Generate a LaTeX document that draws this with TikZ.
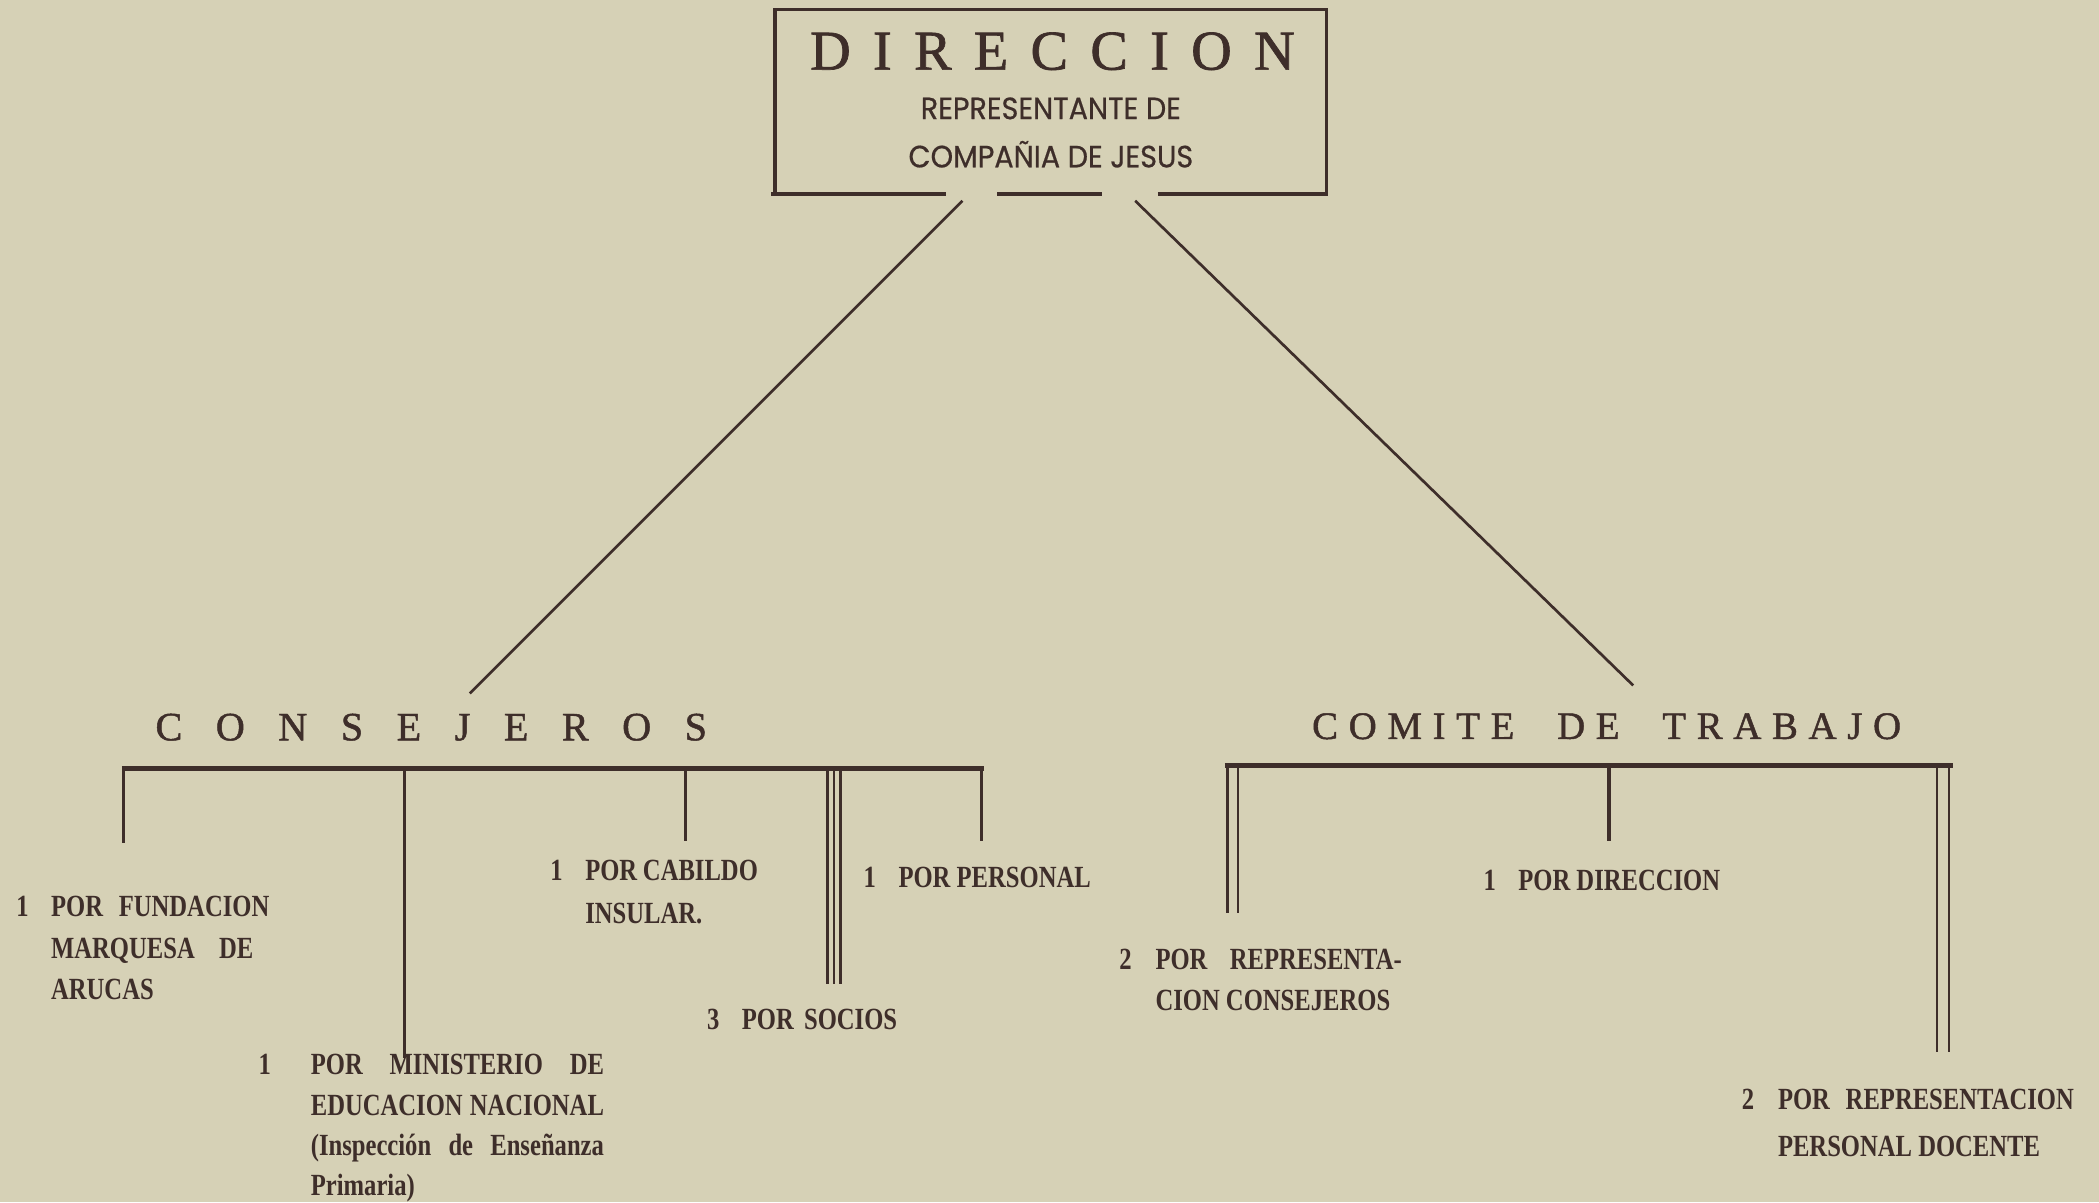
\documentclass[tikz,border=0pt]{standalone}
\usepackage{fontspec}
\setmainfont{Liberation Serif}
\newfontfamily\titlefont[FakeBold=1.2]{Liberation Serif}
\newfontfamily\labfont[FakeStretch=0.8]{Liberation Serif}
\newfontfamily\sansfnt[FakeStretch=0.93,FakeBold=0.6]{Poppins}
\definecolor{paper}{RGB}{214,209,182}
\definecolor{ink}{RGB}{62,46,42}
\newcommand\labtext[1]{\begin{tabular}[t]{@{}l@{}}#1\end{tabular}}
\newcommand\jline[2]{\makebox[#1][s]{#2}}
\tikzset{
  boxline/.style={draw=ink, line width=2.6pt},
  diag/.style={draw=ink, line width=2pt},
  bar/.style={draw=ink, line width=3.4pt},
  stem/.style={draw=ink, line width=2.4pt},
  thin/.style={draw=ink, line width=1.8pt},
  lab/.style={anchor=base west, inner sep=0pt, text=ink,
    font=\labfont\bfseries\fontsize{23}{30}\selectfont},
  ttl/.style={anchor=base west, inner sep=0pt, text=ink},
  sns/.style={anchor=base, inner sep=0pt, text=ink,
    font=\sansfnt\fontsize{23}{23}\selectfont}
}
\begin{document}
\begin{tikzpicture}[x=1pt,y=-1pt]
\fill[paper] (0,0) rectangle (1568,898);
\useasboundingbox (0,0) rectangle (1568,898);

% ---- top box
\draw[boxline] (579,145) -- (579,7) -- (991,7) -- (991,145);
\draw[boxline] (576,145) -- (707,145);
\draw[boxline] (745,145) -- (823,145);
\draw[boxline] (865,145) -- (992,145);
\node[ttl, font=\titlefont\fontsize{42}{42}\selectfont] (dir) at (605,52)
  {\makebox[362pt][s]{D\hfill I\hfill R\hfill E\hfill C\hfill C\hfill I\hfill O\hfill N}};
\node[sns] (rep) at (785,89) {REPRESENTANTE DE};
\node[sns] (comp) at (785,125) {COMPAÑIA DE JESUS};

% ---- group titles
\node[ttl, font=\titlefont\fontsize{30}{30}\selectfont] (cons) at (116,553)
  {\makebox[412pt][s]{C\hfill O\hfill N\hfill S\hfill E\hfill J\hfill E\hfill R\hfill O\hfill S}};
\node[ttl, font=\titlefont\fontsize{29}{29}\selectfont] (comite) at (980,552)
  {\makebox[440pt][s]{C\hfill O\hfill M\hfill I\hfill T\hfill E\hskip 0pt plus 4fill D\hfill E\hskip 0pt plus 4fill T\hfill R\hfill A\hfill B\hfill A\hfill J\hfill O}};

% ---- diagonals
\coordinate (dl) at (719,150);
\coordinate (dr) at (848,150);
\coordinate (cl) at (351,518);
\coordinate (cr) at (1220,512);
\draw[diag] (dl) -- (cl);
\draw[diag] (dr) -- (cr);

% ---- consejeros bracket
\coordinate (bl0) at (91,574);
\coordinate (bl1) at (735,574);
\draw[bar] (bl0) -- (bl1);
\coordinate (s1) at (92,630);
\coordinate (s2) at (302,790);
\coordinate (s3) at (512,628);
\coordinate (s4a) at (618,735);
\coordinate (s4b) at (623,735);
\coordinate (s4c) at (628,735);
\coordinate (s5) at (733,628);
\draw[stem] (s1 |- bl0) -- (s1);
\draw[stem] (s2 |- bl0) -- (s2);
\draw[stem] (s3 |- bl0) -- (s3);
\draw[thin] (s4a |- bl0) -- (s4a);
\draw[thin] (s4b |- bl0) -- (s4b);
\draw[thin] (s4c |- bl0) -- (s4c);
\draw[stem] (s5 |- bl0) -- (s5);

% ---- comite bracket
\coordinate (br0) at (915,572);
\coordinate (br1) at (1459,572);
\draw[bar] (br0) -- (br1);
\coordinate (t1a) at (917,682);
\coordinate (t1b) at (925,682);
\coordinate (t2) at (1202,628);
\coordinate (t3a) at (1447,786);
\coordinate (t3b) at (1456,786);
\draw[thin] (t1a |- br0) -- (t1a);
\draw[thin] (t1b |- br0) -- (t1b);
\draw[stem] (t2 |- br0) -- (t2);
\draw[thin] (t3a |- br0) -- (t3a);
\draw[thin] (t3b |- br0) -- (t3b);

% ---- labels
\node[lab] (fund) at (12,685) {\labtext{\makebox[26pt][l]{1}\jline{163pt}{POR FUNDACION}\\[1pt]
  \hspace*{26pt}\jline{151pt}{MARQUESA DE}\\[1pt]
  \hspace*{26pt}ARUCAS}};
\node[lab] (minis) at (193,803) {\labtext{\makebox[39pt][l]{1}\jline{219pt}{POR MINISTERIO DE}\\
  \hspace*{39pt}\jline{219pt}{EDUCACION NACIONAL}\\
  \hspace*{39pt}\jline{219pt}{(Inspección de Enseñanza}\\
  \hspace*{39pt}Primaria)}};
\node[lab] (cab) at (411,658) {\labtext{\makebox[26pt][l]{1}\jline{129pt}{POR CABILDO}\\[2pt]
  \hspace*{26pt}INSULAR.}};
\node[lab] (soc) at (528,769) {\makebox[26pt][l]{3}\jline{116pt}{POR SOCIOS}};
\node[lab] (pers) at (645,663) {\makebox[26pt][l]{1}POR PERSONAL};
\node[lab] (pdir) at (1108,665) {\makebox[26pt][l]{1}POR DIRECCION};
\node[lab] (rcons) at (836,724) {\labtext{\makebox[27pt][l]{2}\jline{184pt}{POR REPRESENTA-}\\[1pt]
  \hspace*{27pt}CION CONSEJEROS}};
\node[lab] (rdoc) at (1301,829) {\labtext{\makebox[27pt][l]{2}\jline{221pt}{POR REPRESENTACION}\\[5pt]
  \hspace*{27pt}PERSONAL DOCENTE}};
\end{tikzpicture}
\end{document}
